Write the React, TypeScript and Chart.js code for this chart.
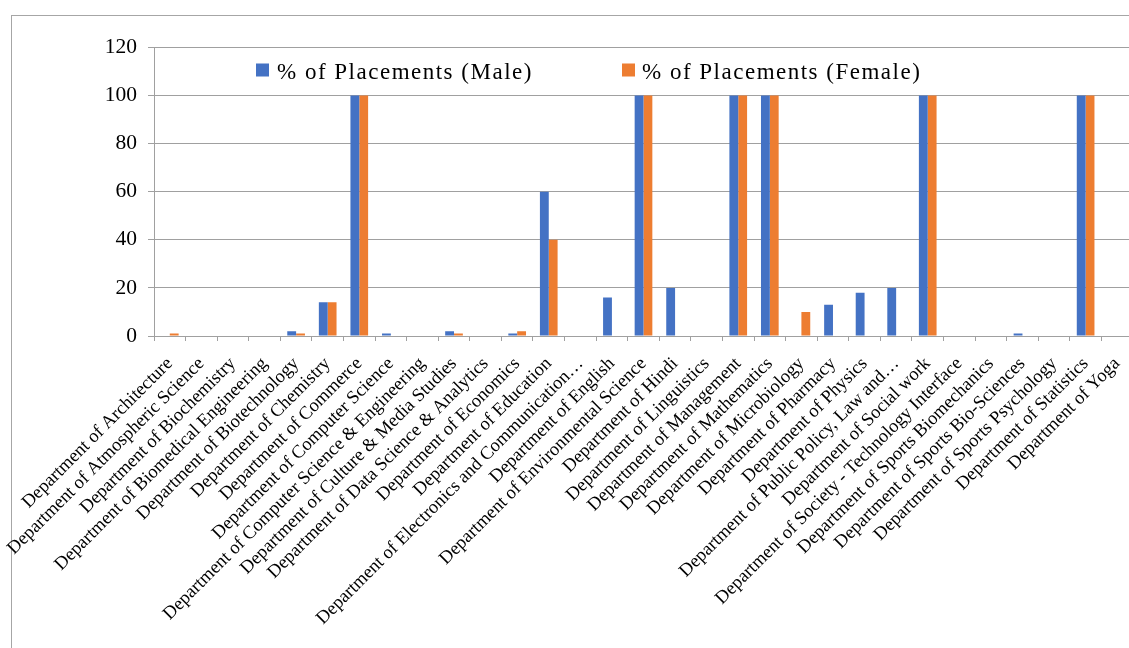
import React, { useEffect, useRef } from "react";
import { Chart, registerables } from "chart.js";

Chart.register(...registerables);

const categories = [
  "Department of Architecture",
  "Department of Atmospheric Science",
  "Department of Biochemistry",
  "Department of Biomedical Engineering",
  "Department of Biotechnology",
  "Department of Chemistry",
  "Department of Commerce",
  "Department of Computer Science",
  "Department of Computer Science & Engineering",
  "Department of Culture & Media Studies",
  "Department of Data Science & Analytics",
  "Department of Economics",
  "Department of Education",
  "Department of Electronics and Communication…",
  "Department of English",
  "Department of Environmental Science",
  "Department of Hindi",
  "Department of Linguistics",
  "Department of Management",
  "Department of Mathematics",
  "Department of Microbiology",
  "Department of Pharmacy",
  "Department of Physics",
  "Department of Public Policy, Law and…",
  "Department of Social work",
  "Department of Society - Technology Interface",
  "Department of Sports Biomechanics",
  "Department of Sports Bio-Sciences",
  "Department of Sports Psychology",
  "Department of Statistics",
  "Department of Yoga",
];

const maleValues = [0, 0, 0, 0, 2, 14, 100, 1, 0, 2, 0, 1, 60, 0, 16, 100, 20, 0, 100, 100, 0, 13, 18, 20, 100, 0, 0, 1, 0, 100, 0];
const femaleValues = [1, 0, 0, 0, 1, 14, 100, 0, 0, 1, 0, 2, 40, 0, 0, 100, 0, 0, 100, 100, 10, 0, 0, 0, 100, 0, 0, 0, 0, 100, 0];

const seriesLabels = ["% of Placements (Male)", "% of Placements (Female)"];
const seriesColors = ["#4472C4", "#ED7D31"];
const yMin = 0;
const yMax = 120;
const yStep = 20;

const FONT = "'Liberation Serif', 'Times New Roman', serif";
const GRID = "#a0a0a0";

const legendPlugin = {
  id: "customLegend",
  afterDraw(chart: any) {
    const ctx = chart.ctx;
    ctx.save();
    const positions = [
      { box: 256, text: 277 },
      { box: 622, text: 642 },
    ];
    ctx.font = `23px ${FONT}`;
    try {
      (ctx as any).letterSpacing = "1.5px";
    } catch (e) {}
    ctx.textBaseline = "alphabetic";
    ctx.textAlign = "left";
    chart.data.datasets.forEach((ds: any, i: number) => {
      const p = positions[i];
      ctx.fillStyle = ds.backgroundColor;
      ctx.fillRect(p.box, 63.5, 13, 13);
      ctx.fillStyle = "#000";
      ctx.fillText(ds.label, p.text, 78.5);
    });
    ctx.restore();
  },
};

export default function App() {
  const canvasRef = useRef<HTMLCanvasElement>(null);

  useEffect(() => {
    if (!canvasRef.current) return;
    const chart = new Chart(canvasRef.current, {
      type: "bar",
      data: {
        labels: categories,
        datasets: [
          {
            label: seriesLabels[0],
            data: maleValues,
            backgroundColor: seriesColors[0],
            borderWidth: 0,
            categoryPercentage: 0.56,
            barPercentage: 1,
          },
          {
            label: seriesLabels[1],
            data: femaleValues,
            backgroundColor: seriesColors[1],
            borderWidth: 0,
            categoryPercentage: 0.56,
            barPercentage: 1,
          },
        ],
      },
      options: {
        animation: false,
        responsive: false,
        maintainAspectRatio: false,
        devicePixelRatio: 1,
        layout: { padding: { top: 47.5, left: 0, right: 7, bottom: 0 } },
        plugins: {
          legend: { display: false },
          tooltip: { enabled: false },
        },
        scales: {
          x: {
            grid: {
              offset: true,
              drawOnChartArea: false,
              drawTicks: true,
              tickLength: 5,
              color: GRID,
            },
            border: { display: true, color: GRID },
            ticks: {
              autoSkip: false,
              minRotation: 45,
              maxRotation: 45,
              padding: 12,
              color: "#000",
              font: { family: FONT, size: 18.5 },
            },
            afterFit(scale: any) {
              scale.height = 312;
              scale.paddingLeft = 0;
              scale.paddingRight = 0;
            },
          },
          y: {
            min: yMin,
            max: yMax,
            ticks: {
              stepSize: yStep,
              padding: 11,
              color: "#000",
              font: { family: FONT, size: 21.5 },
            },
            grid: {
              color: GRID,
              tickLength: 6,
              drawTicks: true,
            },
            border: { display: true, color: GRID },
            afterFit(scale: any) {
              scale.width = 154;
            },
          },
        },
      },
      plugins: [legendPlugin],
    });
    return () => chart.destroy();
  }, []);

  return (
    <div
      style={{
        position: "fixed",
        left: 0,
        top: 0,
        width: 1129,
        height: 648,
        overflow: "hidden",
        background: "#fff",
      }}
    >
      <div
        style={{
          position: "absolute",
          left: 11,
          top: 15,
          width: 1200,
          height: 700,
          border: "1px solid #a6a6a6",
          boxSizing: "border-box",
        }}
      />
      <canvas
        ref={canvasRef}
        width={1140}
        height={648}
        style={{ position: "absolute", left: 0, top: 0, width: 1140, height: 648 }}
      />
    </div>
  );
}
